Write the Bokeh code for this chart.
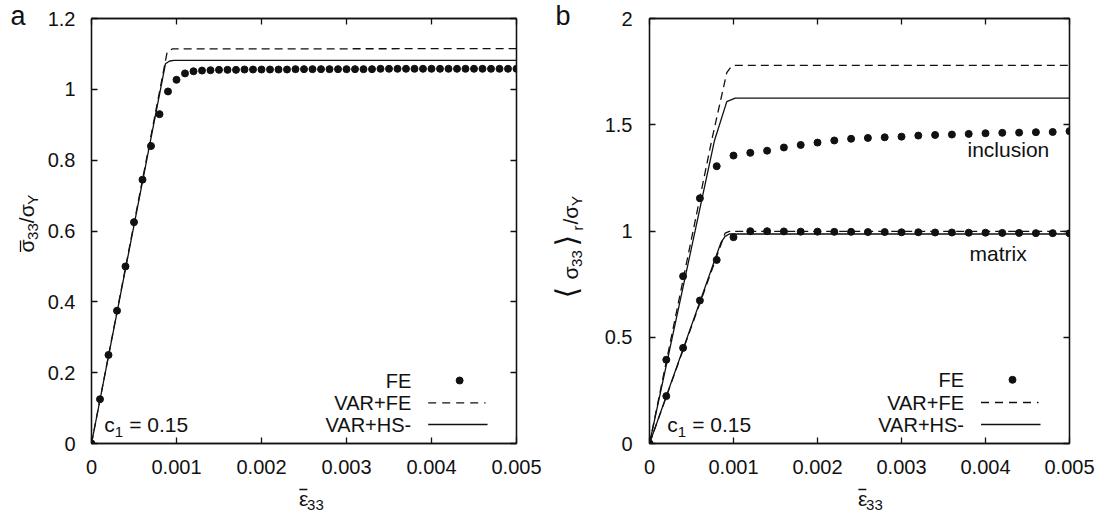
import math
from bokeh.plotting import figure
from bokeh.models import LinearAxis, Range1d, FixedTicker, Label
from bokeh.layouts import row, column
from bokeh.core.properties import value
from bokeh.embed import file_html
from bokeh.resources import INLINE

FONT = "Liberation Sans"
BR_FONT = "DejaVu Sans"
INK = "#111111"

# ---------------- data ----------------
x_ticks = [0.0, 0.001, 0.002, 0.003, 0.004, 0.005]
x_tick_labels = ["0", "0.001", "0.002", "0.003", "0.004", "0.005"]
ya_ticks = [0.0, 0.2, 0.4, 0.6, 0.8, 1.0, 1.2]
ya_tick_labels = ["0", "0.2", "0.4", "0.6", "0.8", "1", "1.2"]
yb_ticks = [0.0, 0.5, 1.0, 1.5, 2.0]
yb_tick_labels = ["0", "0.5", "1", "1.5", "2"]

# panel a : FE points
strain_a = [0.0000, 0.0001, 0.0002, 0.0003, 0.0004, 0.0005, 0.0006, 0.0007, 0.0008, 0.0009,
            0.0010, 0.0011, 0.0012, 0.0013, 0.0014, 0.0015, 0.0016, 0.0017, 0.0018, 0.0019,
            0.0020, 0.0021, 0.0022, 0.0023, 0.0024, 0.0025, 0.0026, 0.0027, 0.0028, 0.0029,
            0.0030, 0.0031, 0.0032, 0.0033, 0.0034, 0.0035, 0.0036, 0.0037, 0.0038, 0.0039,
            0.0040, 0.0041, 0.0042, 0.0043, 0.0044, 0.0045, 0.0046, 0.0047, 0.0048, 0.0049,
            0.0050]
fe_a = [0.000, 0.125, 0.250, 0.375, 0.500, 0.625, 0.745, 0.840, 0.930, 0.994,
        1.027, 1.045, 1.051, 1.053, 1.054, 1.055, 1.055, 1.055, 1.056, 1.056,
        1.056, 1.056, 1.056, 1.056, 1.057, 1.057, 1.057, 1.057, 1.057, 1.057,
        1.057, 1.057, 1.057, 1.057, 1.058, 1.058, 1.058, 1.058, 1.058, 1.058,
        1.058, 1.058, 1.058, 1.058, 1.058, 1.058, 1.058, 1.058, 1.058, 1.058,
        1.058]
varfe_a_x = [0.0, 0.00089, 0.00095, 0.005]
varfe_a_y = [0.0, 1.105, 1.114, 1.115]
varhs_a_x = [0.0, 0.00087, 0.00092, 0.00097, 0.005]
varhs_a_y = [0.0, 1.072, 1.080, 1.082, 1.082]

# panel b : FE points (inclusion / matrix)
strain_b = [0.0000, 0.0002, 0.0004, 0.0006, 0.0008, 0.0010, 0.0012, 0.0014, 0.0016, 0.0018,
            0.0020, 0.0022, 0.0024, 0.0026, 0.0028, 0.0030, 0.0032, 0.0034, 0.0036, 0.0038,
            0.0040, 0.0042, 0.0044, 0.0046, 0.0048, 0.0050]
fe_b_incl = [0.000, 0.394, 0.787, 1.154, 1.305, 1.355, 1.368, 1.378, 1.393, 1.405,
             1.416, 1.426, 1.434, 1.438, 1.441, 1.444, 1.449, 1.452, 1.454, 1.457,
             1.460, 1.462, 1.463, 1.465, 1.466, 1.470]
fe_b_matr = [0.000, 0.223, 0.450, 0.673, 0.864, 0.971, 0.999, 0.999, 0.998, 0.997,
             0.997, 0.996, 0.996, 0.995, 0.995, 0.994, 0.994, 0.993, 0.993, 0.992,
             0.992, 0.991, 0.991, 0.990, 0.990, 0.989]
varfe_b_incl_x = [0.0, 0.00074, 0.00092, 0.00097, 0.00102, 0.005]
varfe_b_incl_y = [0.0, 1.426, 1.745, 1.772, 1.779, 1.779]
varhs_b_incl_x = [0.0, 0.000774, 0.00092, 0.00102, 0.005]
varhs_b_incl_y = [0.0, 1.426, 1.609, 1.625, 1.625]
varfe_b_matr_x = [0.0, 0.0009, 0.00095, 0.005]
varfe_b_matr_y = [0.0, 0.990, 0.998, 0.998]
varhs_b_matr_x = [0.0, 0.00085, 0.0009, 0.00095, 0.005]
varhs_b_matr_y = [0.0, 0.945, 0.975, 0.986, 0.986]

legend_labels = ["FE", "VAR+FE", "VAR+HS-"]

# ---------------- helpers ----------------
FRAME_H = 425
R = math.pi / 2
MID = 0.3465  # distance (em) from alphabetic baseline up to the "middle" anchor


def style_axis(ax, ticks, labels, show, standoff=0):
    ax.ticker = FixedTicker(ticks=ticks, minor_ticks=[])
    ax.major_tick_in = 6
    ax.major_tick_out = 0
    ax.minor_tick_in = 0
    ax.minor_tick_out = 0
    ax.axis_line_color = INK
    ax.axis_line_width = 1.3
    ax.major_tick_line_color = INK
    ax.major_tick_line_width = 1.3
    ax.major_label_overrides = {t: l for t, l in zip(ticks, labels)}
    if show:
        ax.major_label_text_font = FONT
        ax.major_label_text_font_size = "20px"
        ax.major_label_text_color = INK
        ax.major_label_standoff = standoff
    else:
        ax.major_label_text_font_size = "1px"
        ax.major_label_text_color = None
        ax.major_label_standoff = 0


def make_fig(width, height, bl, br, bt, bb, ymax, yticks, ylabels, ystand):
    p = figure(width=width, height=height, x_range=Range1d(0, 0.005), y_range=Range1d(0, ymax),
               output_backend="svg", toolbar_location=None,
               min_border_left=bl, min_border_right=br, min_border_top=bt, min_border_bottom=bb)
    p.grid.visible = False
    p.outline_line_color = INK
    p.outline_line_width = 1.3
    p.background_fill_color = "white"
    p.border_fill_color = "white"
    top = LinearAxis()
    right = LinearAxis()
    p.add_layout(top, "above")
    p.add_layout(right, "right")
    style_axis(p.below[0], x_ticks, x_tick_labels, True, 16)
    style_axis(p.left[0], yticks, ylabels, True, ystand)
    style_axis(top, x_ticks, x_tick_labels, False)
    style_axis(right, yticks, ylabels, False)
    return p


def label_fig(x0, x1, y0, y1):
    """A blank canvas whose coordinates equal page pixels (y grows downward)."""
    f = figure(width=x1 - x0, height=y1 - y0, x_range=Range1d(x0, x1), y_range=Range1d(y1, y0),
               x_axis_type=None, y_axis_type=None, output_backend="svg", toolbar_location=None,
               min_border=0, title=None)
    f.outline_line_color = None
    f.grid.visible = False
    f.background_fill_color = None
    f.border_fill_color = None
    return f


def ftext(f, x, y, text, size=21, rotated=False, font=FONT):
    """x, y: start of the alphabetic baseline in page pixels."""
    if rotated:
        ax, ay, ang = x - MID * size, y, R
    else:
        ax, ay, ang = x, y - MID * size, 0.0
    f.text(x=[ax], y=[ay], text=[text], angle=ang, text_font=value(font),
           text_font_size=value(f"{size}px"), text_color=INK, text_align="left",
           text_baseline="middle")


def overline(f, x0, y0, x1, y1):
    f.segment(x0=[x0], y0=[y0], x1=[x1], y1=[y1], line_color=INK, line_width=1.3)


def dlabel(p, x, y, text, align="left", size=20):
    p.add_layout(Label(x=x, y=y, text=text, text_font=FONT, text_font_size=f"{size}px",
                       text_color=INK, text_align=align, text_baseline="middle"))


def slabel(p, x, y, text, size=21):
    """x, y: baseline start in screen px relative to the frame's bottom-left."""
    p.add_layout(Label(x=x, y=y + MID * size, x_units="screen", y_units="screen", text=text,
                       text_font=FONT, text_font_size=f"{size}px", text_color=INK,
                       text_align="left", text_baseline="middle"))


def legend(p, frame_w, ymax, rows_px):
    xs = 0.005 / frame_w
    ys = ymax / FRAME_H
    text_r = (frame_w - 105.5) * xs
    dot_x = (frame_w - 57) * xs
    s0 = (frame_w - 88.5) * xs
    s1 = (frame_w - 29) * xs
    yy = [r * ys for r in rows_px]
    for lab, y in zip(legend_labels, yy):
        dlabel(p, text_r, y, lab, align="right")
    p.scatter([dot_x], [yy[0]], size=7, color=INK)
    p.segment(x0=[s0], y0=[yy[1]], x1=[s1 - 2 * xs], y1=[yy[1]], line_color=INK, line_width=1.3,
              line_dash="8 6")
    p.segment(x0=[s0], y0=[yy[2]], x1=[s1], y1=[yy[2]], line_color=INK, line_width=1.3)


def c1_label(p, x0, y0):
    slabel(p, x0, y0, "c")
    slabel(p, x0 + 10.5, y0 - 4.5, "1", size=15)
    slabel(p, x0 + 25.0, y0, "= 0.15")


def eps_label(f, x0, base):
    ftext(f, x0, base, "ε")
    overline(f, x0 + 0.5, base - 16, x0 + 10, base - 16)
    ftext(f, x0 + 9.7, base + 4.5, "33", size=15)


# ---------------- panel a ----------------
PH = 483
pa = make_fig(504, PH, 46, 32, 18, PH - 18 - FRAME_H, 1.2, ya_ticks, ya_tick_labels, 16)
pa.line(varfe_a_x, varfe_a_y, line_color=INK, line_width=1.3, line_dash="8 5")
pa.line(varhs_a_x, varhs_a_y, line_color=INK, line_width=1.3)
pa.scatter(strain_a, fe_a, size=7, color=INK)
legend(pa, 426, 1.2, [63, 40.7, 19])
c1_label(pa, 12.7, 11.3)

ya = label_fig(0, 44, 0, 517)
ftext(ya, 10, 25, "a", size=27)
ftext(ya, 33, 252, "σ", rotated=True)
overline(ya, 20, 251.5, 20, 240)
ftext(ya, 37.5, 239.4, "33", size=15, rotated=True)
ftext(ya, 33, 222.7, "/σ", rotated=True)
ftext(ya, 37.5, 204.3, "Y", size=15, rotated=True)

xa = label_fig(44, 548, PH, 517)
eps_label(xa, 290, 505)

# ---------------- panel b ----------------
pb = make_fig(503, PH, 53, 30, 18, PH - 18 - FRAME_H, 2.0, yb_ticks, yb_tick_labels, 17)
pb.line(varfe_b_incl_x, varfe_b_incl_y, line_color=INK, line_width=1.3, line_dash="8 5")
pb.line(varhs_b_incl_x, varhs_b_incl_y, line_color=INK, line_width=1.3)
pb.line(varfe_b_matr_x, varfe_b_matr_y, line_color=INK, line_width=1.3, line_dash="8 5")
pb.line(varhs_b_matr_x, varhs_b_matr_y, line_color=INK, line_width=1.3)
pb.scatter(strain_b, fe_b_incl, size=7, color=INK)
pb.scatter(strain_b, fe_b_matr, size=7, color=INK)
dlabel(pb, 0.003786, 1.382, "inclusion", size=21)
dlabel(pb, 0.00381, 0.8955, "matrix", size=21)
legend(pb, 420, 2.0, [63.7, 41, 19])
c1_label(pb, 17.7, 11.3)

yb = label_fig(548, 596, 0, 517)
ftext(yb, 555, 25, "b", size=27)
ftext(yb, 576, 298, "⟨", size=30, rotated=True, font=BR_FONT)
ftext(yb, 577, 279, "σ", rotated=True)
ftext(yb, 581.5, 266.4, "33", size=15, rotated=True)
ftext(yb, 576, 246, "⟩", size=30, rotated=True, font=BR_FONT)
ftext(yb, 582, 230, "r", size=15, rotated=True)
ftext(yb, 577, 224, "/σ", rotated=True)
ftext(yb, 581.5, 205.6, "Y", size=15, rotated=True)

xb = label_fig(596, 1099, PH, 517)
eps_label(xb, 845.7, 505)

layout = row(ya, column(pa, xa), yb, column(pb, xb))
open("out.html", "w").write(file_html(layout, INLINE))
